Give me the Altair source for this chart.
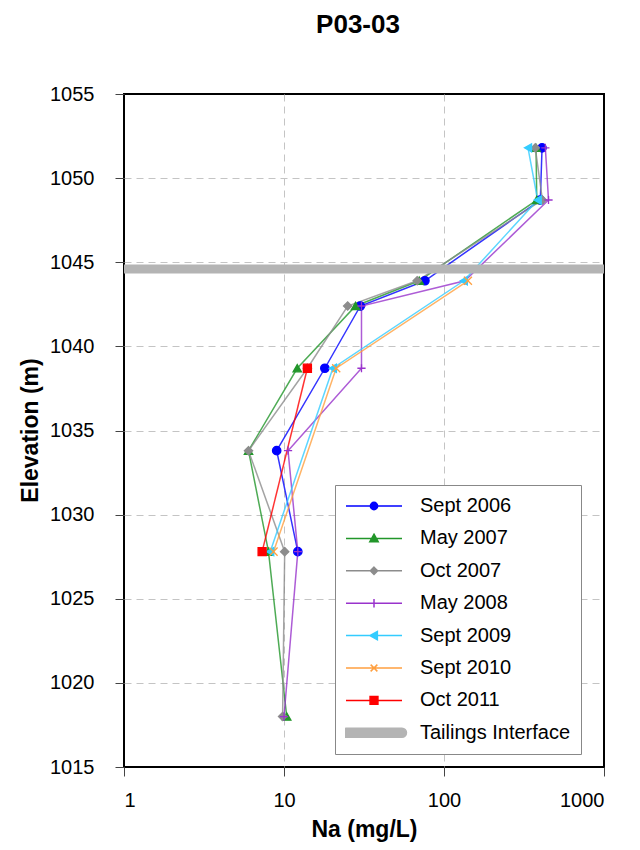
import altair as alt
import pandas as pd

# ---------------- data ----------------
series_names = ["Sept 2006", "May 2007", "Oct 2007", "May 2008",
                "Sept 2009", "Sept 2010", "Oct 2011"]
interface_name = "Tailings Interface"

sept2006_elev = [1051.8, 1048.7, 1043.9, 1042.4, 1038.7, 1033.8, 1027.8]
sept2006_na = [410, 400, 76, 30, 18, 9.0, 12.2]

may2007_elev = [1051.8, 1048.7, 1043.9, 1042.4, 1038.7, 1033.8, 1027.8, 1018.0]
may2007_na = [376, 380, 70, 28, 12.1, 6.0, 8.0, 10.4]

oct2007_elev = [1051.8, 1048.7, 1043.9, 1042.4, 1038.7, 1033.8, 1027.8, 1018.0]
oct2007_na = [372, 412, 68, 25, 14.0, 6.0, 10.1, 9.8]

may2008_elev = [1051.8, 1048.7, 1043.9, 1042.4, 1038.7, 1033.8, 1027.8, 1018.0]
may2008_na = [430, 450, 135, 30.5, 30.5, 10.6, 12.2, 10.0]

sept2009_elev = [1051.8, 1048.7, 1043.9, 1038.7, 1027.8]
sept2009_na = [335, 385, 133, 20.2, 8.2]

sept2010_elev = [1043.9, 1038.7, 1027.8]
sept2010_na = [141, 21.2, 8.6]

oct2011_elev = [1038.7, 1027.8]
oct2011_na = [14.0, 7.3]

interface_elev = 1044.6
interface_na = [1, 1000]

x_ticks = [1, 10, 100, 1000]
y_ticks = [1015, 1020, 1025, 1030, 1035, 1040, 1045, 1050, 1055]

# ---------------- styles ----------------
colors = ["#0000FF", "#22962A", "#8C8C8C", "#9933CC", "#33CCFF", "#FFA040", "#FF0000"]
interface_color = "#B4B4B4"
shapes = ["circle", "triangle-up", "diamond", "M-1,0H1M0,-1V1",
          "triangle-left", "M-1,-1L1,1M-1,1L1,-1", "square"]
sizes = [70, 65, 50, 90, 65, 55, 70]

legend_paths = [
    "M-1,0H1M-0.13,0A0.13,0.13,0,1,0,0.13,0A0.13,0.13,0,1,0,-0.13,0Z",
    "M-1,0H1M0,-0.15L0.15,0.12L-0.15,0.12Z",
    "M-1,0H1M0,-0.13L0.13,0L0,0.13L-0.13,0Z",
    "M-1,0H1M0,-0.15V0.15",
    "M-1,0H1M-0.15,0L0.12,-0.15L0.12,0.15Z",
    "M-1,0H1M-0.12,-0.12L0.12,0.12M-0.12,0.12L0.12,-0.12",
    "M-1,0H1M-0.14,-0.14H0.14V0.14H-0.14Z",
]
interface_path = "M-1,-0.16H1A0.16,0.16,0,0,1,1,0.16H-1A0.16,0.16,0,0,1,-1,-0.16Z"

FONT = "Liberation Sans"

# ---------------- table ----------------
all_series = [
    (sept2006_na, sept2006_elev), (may2007_na, may2007_elev),
    (oct2007_na, oct2007_elev), (may2008_na, may2008_elev),
    (sept2009_na, sept2009_elev), (sept2010_na, sept2010_elev),
    (oct2011_na, oct2011_elev),
]
rows = []
for name, (nas, elevs) in zip(series_names, all_series):
    for i, (na, el) in enumerate(zip(nas, elevs)):
        rows.append({"series": name, "na": na, "elev": el, "idx": i})
df = pd.DataFrame(rows)

iface_df = pd.DataFrame({"series": [interface_name] * len(interface_na),
                         "na": interface_na,
                         "elev": [interface_elev] * len(interface_na),
                         "idx": list(range(len(interface_na)))})


def ternary(keys, vals, default):
    expr = f"'{default}'"
    for k, v in reversed(list(zip(keys, vals))):
        expr = f"datum.label === '{k}' ? '{v}' : ({expr})"
    return expr


shape_expr = ternary(series_names, legend_paths, interface_path)
color_expr = ternary(series_names, colors, interface_color)

legend = alt.Legend(
    title=None, orient="none", legendX=211, legendY=391,
    fillColor="white",
    symbolType={"expr": shape_expr},
    symbolFillColor={"expr": color_expr},
    symbolStrokeColor={"expr": color_expr},
    symbolOpacity=1,
    symbolSize=3136, symbolStrokeWidth=1.5, symbolOffset=0,
    clipHeight=22, rowPadding=10.4, labelOffset=17,
    labelFont=FONT, labelFontSize=20, labelColor="black", labelLimit=300,
)

color_scale = alt.Scale(domain=series_names + [interface_name],
                        range=colors + [interface_color])

x_scale = alt.Scale(type="log", domain=[1, 1000], nice=False)
y_scale = alt.Scale(domain=[1015, 1055], nice=False, zero=False)

x_grid_hide = {"condition": {"test": "datum.value <= 1 || datum.value >= 1000", "value": 0},
               "value": 1}
y_grid_hide = {"condition": {"test": "datum.value <= 1015 || datum.value >= 1055", "value": 0},
               "value": 1}

x_axis = alt.Axis(values=x_ticks, format="d", title="Na (mg/L)",
                  titleFont=FONT, titleFontSize=23, titleFontWeight="bold",
                  titleColor="black", titleX=240, titleY=62, titleBaseline="middle",
                  labelFont=FONT, labelFontSize=20, labelColor="black",
                  labelPadding=14, tickSize=9, tickColor="#444444",
                  domain=False, grid=True, gridDash=[7, 5], gridColor="#C4C4C4",
                  gridOpacity=x_grid_hide)
y_axis = alt.Axis(values=y_ticks, format="d", title="Elevation (m)",
                  titleFont=FONT, titleFontSize=23, titleFontWeight="bold",
                  titleColor="black", titleX=-94, titleY=336, titleAngle=270,
                  titleBaseline="middle", titleAlign="center",
                  labelFont=FONT, labelFontSize=20, labelColor="black",
                  labelPadding=21, tickSize=9, tickColor="#444444",
                  domain=False, grid=True, gridDash=[7, 5], gridColor="#C4C4C4",
                  gridOpacity=y_grid_hide)

base = alt.Chart(df)

lines = base.mark_line(strokeWidth=1.5, strokeOpacity=0.8).encode(
    x=alt.X("na:Q", scale=x_scale, axis=x_axis),
    y=alt.Y("elev:Q", scale=y_scale, axis=y_axis),
    color=alt.Color("series:N", scale=color_scale, legend=legend),
    order=alt.Order("idx:Q"),
)

points = base.mark_point(filled=True, strokeWidth=1.3, opacity=1).encode(
    x=alt.X("na:Q", scale=x_scale),
    y=alt.Y("elev:Q", scale=y_scale),
    fill=alt.Fill("series:N", scale=alt.Scale(domain=series_names, range=colors), legend=None),
    stroke=alt.Stroke("series:N", scale=alt.Scale(domain=series_names, range=colors), legend=None),
    shape=alt.Shape("series:N", scale=alt.Scale(domain=series_names, range=shapes), legend=None),
    size=alt.Size("series:N", scale=alt.Scale(domain=series_names, range=sizes), legend=None),
)

iface = alt.Chart(iface_df).mark_line(strokeWidth=9, strokeCap="butt", clip=True).encode(
    x=alt.X("na:Q", scale=x_scale),
    y=alt.Y("elev:Q", scale=y_scale),
    color=alt.Color("series:N", scale=color_scale, legend=legend),
    order=alt.Order("idx:Q"),
)

chart = alt.layer(lines, points, iface).properties(
    width=480, height=673,
    title=alt.TitleParams("P03-03", font=FONT, fontSize=26, fontWeight="bold",
                          color="black", anchor="middle", frame="group",
                          baseline="alphabetic", offset=25, dx=-6),
    autosize=alt.AutoSizeParams(type="none"),
    padding={"left": 116, "top": 86, "right": 24, "bottom": 82},
    background="white",
).configure_view(
    stroke="black", strokeWidth=2
).configure_legend(
    padding=10, strokeColor="#888888", strokeWidth=1, cornerRadius=0
)

chart.save("out.html", embed_options={"renderer": "svg", "actions": False})
